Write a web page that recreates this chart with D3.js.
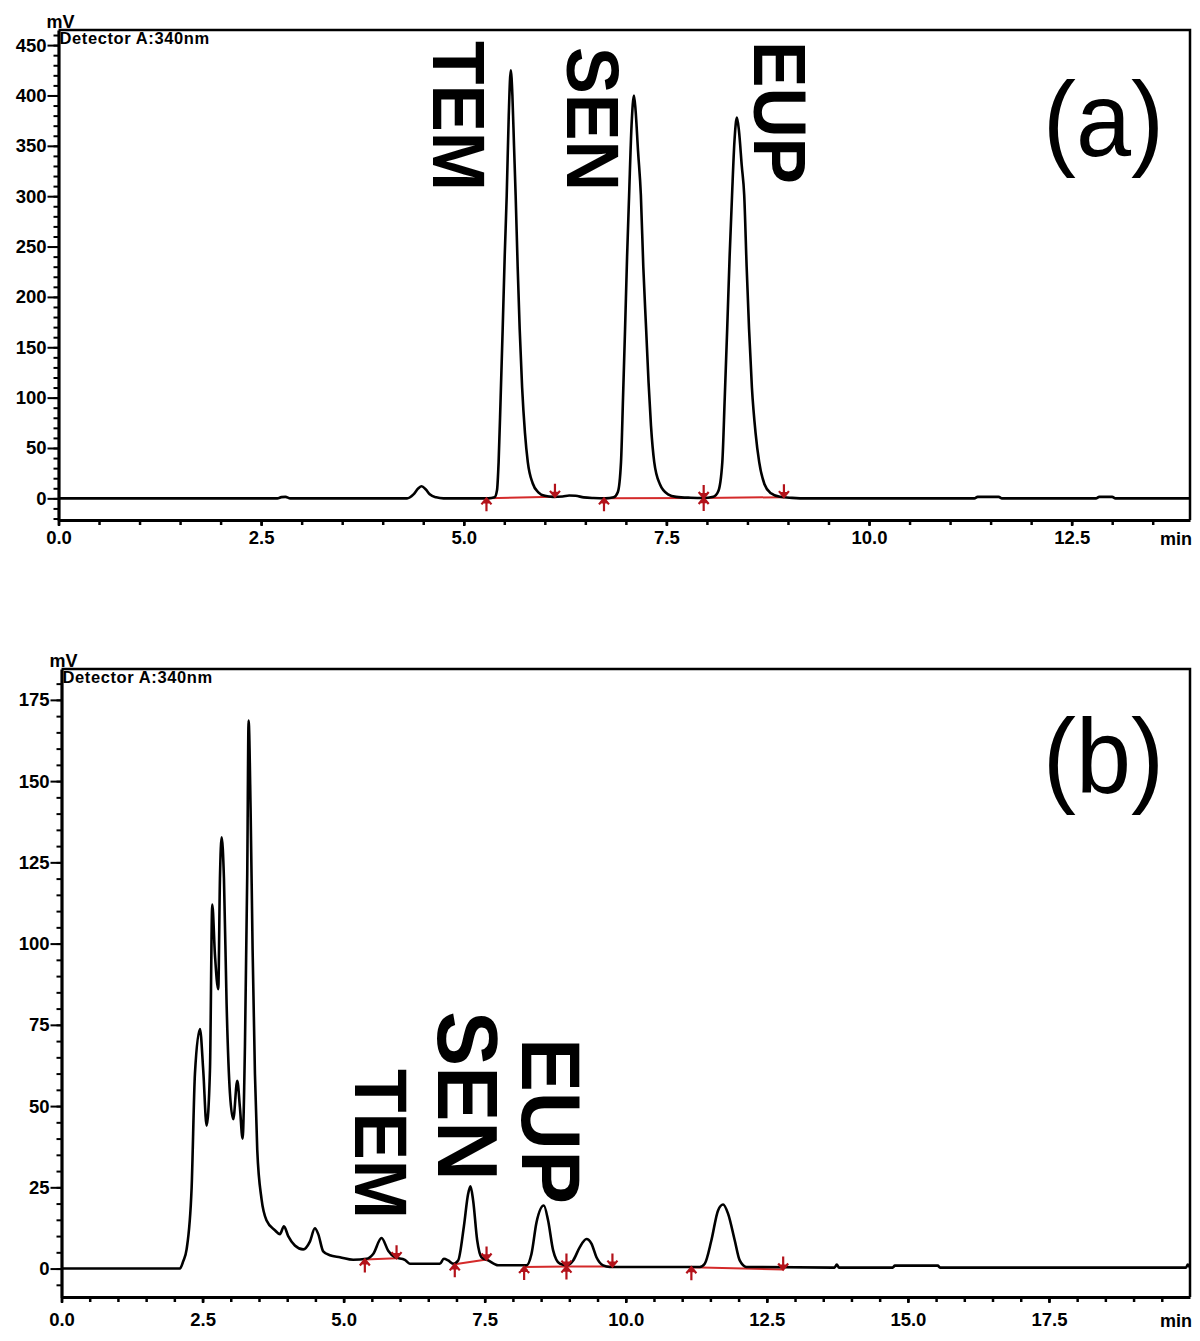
<!DOCTYPE html>
<html lang="en">
  <head>
    <meta charset="utf-8" />
    <script src="https://cdn.jsdelivr.net/npm/d3@7/dist/d3.min.js"></script>
    <title>HPLC chromatograms</title>
    <style>
      body { margin: 0; background: #fff; }
      svg text { font-family: "Liberation Sans", Arial, sans-serif; fill: #000; }
    </style>
  </head>
  <body>
    <div id="container"></div>

    <script>
      const width = 1200;
      const height = 1341;

      // ---- panel (a): standard mixture, retention time (min) / signal (mV)
      const timeA = [0, 2.70, 2.75, 2.80, 2.86, 4.30, 4.38, 4.44, 4.48, 4.53, 4.58, 4.66, 4.75,
        5.30, 5.38, 5.41, 5.43, 5.455, 5.48, 5.505, 5.53, 5.555, 5.58, 5.60, 5.62, 5.64, 5.665, 5.69, 5.72, 5.755, 5.79, 5.85, 5.92, 6.0, 6.1,
        6.22, 6.30, 6.38, 6.48, 6.60,
        6.75, 6.85, 6.90, 6.94, 6.965, 6.99, 7.015, 7.04, 7.07, 7.10, 7.12, 7.15, 7.185, 7.215, 7.25, 7.28, 7.31, 7.35, 7.42, 7.52, 7.62, 7.80,
        7.95, 8.08, 8.14, 8.19, 8.22, 8.25, 8.28, 8.31, 8.34, 8.37, 8.395, 8.43, 8.46, 8.49, 8.52, 8.555, 8.60, 8.645, 8.71, 8.79, 8.90, 9.05, 9.25,
        11.30, 11.34, 11.60, 11.64, 12.80, 12.84, 13.00, 13.04, 13.96];
      const mvA = [0, 0, 1.2, 1.5, 0, 0, 4, 10, 12, 9, 4, 1, 0,
        0, 1, 8, 36, 100, 168, 240, 301, 380, 425, 400, 350, 301, 230, 168, 110, 65, 36, 15, 6, 2.5, 1.5,
        1.8, 2.8, 2.5, 1, 0.3,
        0, 1, 6, 36, 100, 168, 240, 301, 370, 400, 385, 345, 301, 230, 168, 115, 72, 36, 14, 4, 1.5, 0.6,
        0.3, 1.5, 7, 36, 100, 168, 240, 301, 355, 378, 365, 330, 301, 230, 168, 110, 65, 36, 14, 5, 1.5, 0.5, 0,
        0, 1.5, 1.5, 0, 0, 1.5, 1.5, 0, 0];

      // ---- panel (b): sample extract
      const timeB = [0, 2.099, 2.158, 2.217, 2.306, 2.365, 2.454, 2.512, 2.572, 2.631, 2.672, 2.719, 2.778, 2.808, 2.838, 2.879,
        2.926, 2.985, 3.044, 3.115, 3.162, 3.209, 3.251, 3.292, 3.316, 3.351, 3.387, 3.428, 3.469, 3.546, 3.635, 3.782, 3.871, 3.942,
        4.018, 4.136, 4.284, 4.402, 4.491, 4.550, 4.638, 4.756, 4.934, 5.170, 5.406, 5.524, 5.672, 5.790, 5.908, 6.085, 6.174,
        6.705, 6.776, 6.853, 6.941, 7.030, 7.130, 7.207, 7.248, 7.295, 7.367, 7.443, 7.562, 7.739,
        8.240, 8.329, 8.418, 8.548, 8.624, 8.713, 8.831, 8.949, 9.068, 9.186, 9.304, 9.392, 9.481, 9.599, 9.717,
        11.312, 11.400, 11.518, 11.636, 11.725, 11.813, 11.931, 12.020, 12.138,
        13.70, 13.74, 13.78, 14.73, 14.77, 15.53, 15.57, 19.93, 19.96, 20.0];
      const mvB = [0, 0, 2.3, 5.9, 24.8, 60, 73.7, 61, 44, 61, 112, 96.7, 86, 120, 132.7, 120,
        81.4, 54, 46, 57.8, 49.6, 40, 68.4, 121.5, 168.6, 141.5, 98, 60, 36.6, 21.3, 14.8, 11.8, 10.6, 13,
        10, 7.1, 5.9, 8.3, 12.4, 10.6, 5.3, 4.1, 3.5, 2.7, 3.0, 4.5, 9.4, 5.5, 3.5, 2.7, 1.5,
        1.5, 3.0, 2.5, 1.5, 2.5, 12.8, 23, 25.3, 21, 8.7, 3.5, 2.5, 1.0,
        1.0, 4.5, 14.2, 19.4, 14.8, 5.6, 1.5, 1.0, 2.5, 6.6, 9.1, 7.7, 3.5, 1.0, 0.5,
        0.5, 1.5, 8.7, 17.9, 19.7, 16.9, 8.7, 2.5, 0.5,
        0.3, 1.2, 0.3, 0.3, 0.9, 0.9, 0.3, 0.3, 1.2, 0.3];

      // integration baselines [t0, v0, t1, v1] and peak start / end / shared marks
      const baselineA = [[5.28, 0, 6.125, 1.5], [6.73, 0, 7.96, 0.3], [7.96, 0.3, 8.95, 1.2]];
      const startsA = [[5.28, 0], [6.73, 0]];
      const endsA = [[6.125, 1.5], [8.95, 1.2]];
      const sharedA = [[7.96, 0.3]];

      const baselineB = [[5.376, 2.8, 5.938, 3.2], [6.97, 1.3, 7.533, 2.8], [8.199, 0.5, 8.949, 0.6], [8.949, 0.6, 9.764, 0.6], [11.163, 0.4, 12.79, -0.3]];
      const startsB = [[5.376, 2.8], [6.97, 1.3], [8.199, 0.5], [11.163, 0.4]];
      const endsB = [[5.938, 3.2], [7.533, 2.8], [9.764, 0.6], [12.79, -0.3]];
      const sharedB = [[8.949, 0.6]];

      // axis ticks
      const xTicksA = [0, 2.5, 5, 7.5, 10, 12.5];
      const xTicksB = [0, 2.5, 5, 7.5, 10, 12.5, 15, 17.5];
      const yTicksA = [0, 50, 100, 150, 200, 250, 300, 350, 400, 450];
      const yTicksB = [0, 25, 50, 75, 100, 125, 150, 175];

      const compounds = ["TEM", "SEN", "EUP"];
      const panelNames = ["(a)", "(b)"];
      const detector = "Detector A:340nm";

      const svg = d3.select("#container").append("svg").attr("width", width).attr("height", height);

      function marker(g, x, y, pts, kind) {
        const red = "#b3121a";
        pts.forEach(([t, v]) => {
          const cx = x(t), cy = y(v);
          let d = "";
          if (kind === "start" || kind === "shared") d += `M${cx},${cy}V${cy + 13}M${cx - 5},${cy + 6}L${cx},${cy}L${cx + 5},${cy + 6}M${cx - 4},${cy + 4}H${cx + 4}`;
          if (kind === "end" || kind === "shared") d += `M${cx},${cy}V${cy - 13}M${cx - 5},${cy - 6}L${cx},${cy}L${cx + 5},${cy - 6}M${cx - 4},${cy - 4}H${cx + 4}`;
          g.append("path").attr("d", d).attr("fill", "none").attr("stroke", red).attr("stroke-width", 2.2);
        });
      }

      function drawPanel(p) {
        const x = d3.scaleLinear().domain(p.xDomain).range([p.left, p.right]);
        const y = d3.scaleLinear().domain(p.yDomain).range([p.bottom, p.top]);
        const g = svg.append("g");

        // top and right frame
        g.append("path")
          .attr("d", `M${p.left},${p.top}H${p.right}V${p.bottom}`)
          .attr("fill", "none").attr("stroke", "#000").attr("stroke-width", 2.5);

        // y axis: minor then major
        const yMinor = d3.range(Math.ceil(p.yDomain[0] / p.yMinorStep) * p.yMinorStep, p.yDomain[1], p.yMinorStep);
        g.append("g").attr("transform", `translate(${p.left},0)`)
          .call(d3.axisLeft(y).tickValues(yMinor).tickSize(5).tickFormat(""))
          .call((s) => s.select(".domain").remove())
          .selectAll("line").attr("stroke-width", 2);
        const ya = g.append("g").attr("transform", `translate(${p.left},0)`)
          .call(d3.axisLeft(y).tickValues(p.yTicks).tickSize(11).tickSizeOuter(0).tickPadding(1));
        ya.select(".domain").attr("stroke-width", 3.2);
        ya.selectAll("line").attr("stroke-width", 2);
        ya.selectAll("text").attr("font-size", 18.5).attr("font-weight", "bold").attr("font-family", "Liberation Sans, Arial, sans-serif");

        // x axis: minor then major
        const xMinor = d3.range(0, p.xDomain[1], 0.5);
        g.append("g").attr("transform", `translate(0,${p.bottom})`)
          .call(d3.axisBottom(x).tickValues(xMinor).tickSize(5).tickFormat(""))
          .call((s) => s.select(".domain").remove())
          .selectAll("line").attr("stroke-width", 2.5);
        const xa = g.append("g").attr("transform", `translate(0,${p.bottom})`)
          .call(d3.axisBottom(x).tickValues(p.xTicks).tickSize(6).tickSizeOuter(0).tickPadding(p.xPad).tickFormat(d3.format(".1f")));
        xa.select(".domain").attr("stroke-width", 3.2);
        xa.selectAll("line").attr("stroke-width", 2.5);
        xa.selectAll("text").attr("font-size", 18.5).attr("font-weight", "bold").attr("font-family", "Liberation Sans, Arial, sans-serif");

        g.append("text").attr("x", p.right - 30).attr("y", p.bottom + p.minDy)
          .attr("font-size", 18).attr("font-weight", "bold").text("min");
        g.append("text").attr("x", p.left - 12).attr("y", p.top - 2)
          .attr("font-size", 18).attr("font-weight", "bold").text("mV");
        g.append("text").attr("x", p.left + 1).attr("y", p.top + 14)
          .attr("font-size", 16.5).attr("font-weight", "bold").attr("letter-spacing", 0.6).text(detector);

        // integration baselines
        g.append("g").selectAll("line").data(p.baseline).join("line")
          .attr("x1", (d) => x(d[0])).attr("y1", (d) => y(d[1]))
          .attr("x2", (d) => x(d[2])).attr("y2", (d) => y(d[3]))
          .attr("stroke", "#d42a2a").attr("stroke-width", 2);

        // trace
        const pts = p.time.map((t, i) => [t, p.mv[i]]);
        const line = d3.line().x((d) => x(d[0])).y((d) => y(d[1])).curve(d3.curveMonotoneX);
        g.append("path").datum(pts).attr("d", line)
          .attr("fill", "none").attr("stroke", "#000").attr("stroke-width", 2.6).attr("stroke-linejoin", "round");

        const mg = g.append("g");
        marker(mg, x, y, p.starts, "start");
        marker(mg, x, y, p.ends, "end");
        marker(mg, x, y, p.shared, "shared");

        // compound labels (rotated)
        p.labels.forEach((l, i) => {
          g.append("text")
            .attr("transform", `translate(${l.x},${l.y}) rotate(90)`)
            .attr("font-size", l.size).attr("font-weight", "bold")
            .attr("textLength", l.len).attr("lengthAdjust", "spacingAndGlyphs")
            .text(compounds[i]);
        });

        g.append("text").attr("x", p.tagX).attr("y", p.tagY)
          .attr("font-size", 106).attr("textLength", 121).attr("lengthAdjust", "spacingAndGlyphs")
          .text(p.tag);
      }

      drawPanel({
        time: timeA, mv: mvA, baseline: baselineA, starts: startsA, ends: endsA, shared: sharedA,
        xDomain: [0, 13.96], yDomain: [-21.5, 465], xTicks: xTicksA, yTicks: yTicksA, yMinorStep: 10,
        left: 58.5, right: 1190, top: 30, bottom: 520, xPad: 5, minDy: 25,
        labels: [{ x: 433, y: 41, size: 75, len: 150 }, { x: 567, y: 47, size: 75, len: 144 }, { x: 754, y: 41, size: 75, len: 143 }],
        tag: panelNames[0], tagX: 1043, tagY: 156
      });

      drawPanel({
        time: timeB, mv: mvB, baseline: baselineB, starts: startsB, ends: endsB, shared: sharedB,
        xDomain: [0, 20], yDomain: [-8.75, 184.5], xTicks: xTicksB, yTicks: yTicksB, yMinorStep: 5,
        left: 61.5, right: 1190, top: 669, bottom: 1297, xPad: 10, minDy: 30,
        labels: [{ x: 355, y: 1069, size: 74, len: 150 }, { x: 438, y: 1011, size: 86, len: 170 }, { x: 522, y: 1038, size: 84, len: 166 }],
        tag: panelNames[1], tagX: 1043, tagY: 793
      });
    </script>
  </body>
</html>
